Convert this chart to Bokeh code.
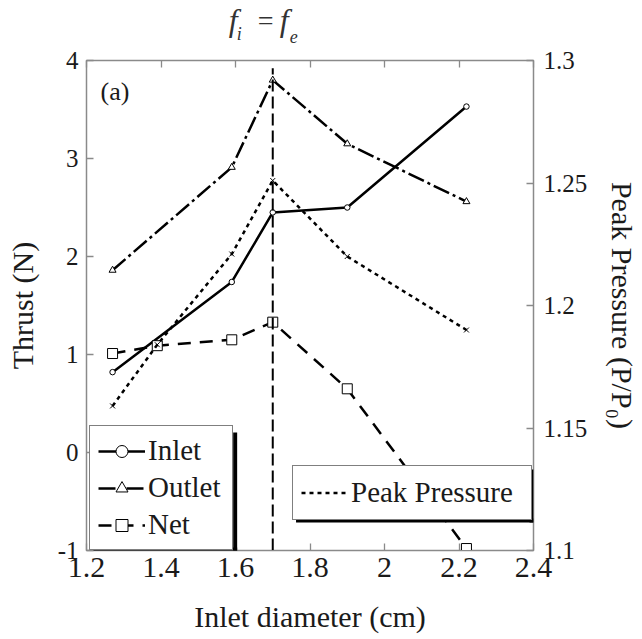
from bokeh.plotting import figure
from bokeh.layouts import column
from bokeh.models import (Range1d, LinearAxis, FixedTicker, Legend, LegendItem,
                          Label, BoxAnnotation)
from bokeh.embed import file_html
from bokeh.resources import INLINE

# ---------------- data ----------------
x_thrust = [1.27, 1.59, 1.70, 1.90, 2.22]
inlet = [0.82, 1.74, 2.45, 2.50, 3.53]
outlet = [1.86, 2.91, 3.80, 3.15, 2.56]

x_net = [1.27, 1.39, 1.59, 1.70, 1.90, 2.22]
net = [1.01, 1.09, 1.15, 1.33, 0.65, -0.98]

x_peak = [1.27, 1.39, 1.59, 1.70, 1.90, 2.22]
peak_pressure = [1.159, 1.184, 1.221, 1.251, 1.220, 1.190]

x_match = [1.70]          # f_i = f_e diameter
match_y = [-1.0, 3.92]

x_ticks = [1.2, 1.4, 1.6, 1.8, 2.0, 2.2, 2.4]
x_tick_labels = ["1.2", "1.4", "1.6", "1.8", "2", "2.2", "2.4"]
thrust_ticks = [-1, 0, 1, 2, 3, 4]
thrust_tick_labels = ["-1", "0", "1", "2", "3", "4"]
pp_ticks = [1.1, 1.15, 1.2, 1.25, 1.3]
pp_tick_labels = ["1.1", "1.15", "1.2", "1.25", "1.3"]

FONT = "Liberation Serif"
GRAY = "#8a8a8a"
TXT = "#1a1a1a"
TOP_H = 46          # strip holding the f_i = f_e note
TOP_BORDER = 14     # room above the frame for the top tick labels

xr = Range1d(1.2, 2.4)

# ---------------- strip above the plot for the f_i = f_e note ----------------
top = figure(width=642, height=TOP_H, x_range=xr, y_range=Range1d(0, TOP_H),
             output_backend="svg", toolbar_location=None,
             x_axis_type=None, y_axis_type=None,
             min_border_left=86, min_border_right=108, min_border_top=0,
             min_border_bottom=0)
top.title.visible = False
top.grid.visible = False
top.outline_line_color = None


def math_label(txt, dx, bottom, size, style="italic"):
    top.add_layout(Label(x=x_match[0], y=TOP_H - bottom, x_offset=dx, text=txt,
                         text_font=FONT, text_font_size=size, text_font_style=style,
                         text_baseline="bottom", text_align="left",
                         text_color="#333333"))

math_label("f", -44, 37, "32px")
math_label("i", -36, 43, "18px")
math_label("=", -15, 35, "28px", "normal")
math_label("f", 7, 37, "32px")
math_label("e", 17, 42, "18px")

# ---------------- main plot ----------------
p = figure(width=642, height=639 - TOP_H, x_range=xr, y_range=Range1d(-1, 4),
           output_backend="svg", toolbar_location=None,
           min_border_left=86, min_border_right=108, min_border_top=TOP_BORDER,
           min_border_bottom=89)
p.title.visible = False
p.extra_y_ranges = {"pp": Range1d(1.1, 1.3)}
p.grid.visible = False
p.outline_line_color = GRAY
p.outline_line_width = 1.5
p.background_fill_color = "white"
p.border_fill_color = "white"


def style_axis(ax, size):
    ax.major_tick_in = 7
    ax.major_tick_out = 0
    ax.minor_tick_line_color = None
    ax.axis_line_color = GRAY
    ax.major_tick_line_color = GRAY
    ax.major_tick_line_width = 1.3
    ax.major_label_text_font = FONT
    ax.major_label_text_font_size = size
    ax.major_label_text_color = TXT
    ax.axis_label_text_font = FONT
    ax.axis_label_text_font_style = "normal"
    ax.axis_label_text_font_size = "30px"
    ax.axis_label_text_color = TXT


xa = p.xaxis[0]
xa.ticker = FixedTicker(ticks=x_ticks)
xa.major_label_overrides = dict(zip(x_ticks, x_tick_labels))
xa.axis_label = "Inlet diameter (cm)"
style_axis(xa, "30px")
xa.major_label_standoff = 7
xa.axis_label_standoff = 20

ya = p.yaxis[0]
ya.ticker = FixedTicker(ticks=thrust_ticks)
ya.major_label_overrides = dict(zip(thrust_ticks, thrust_tick_labels))
ya.axis_label = "Thrust (N)"
style_axis(ya, "25px")
ya.major_label_standoff = 8
ya.axis_label_standoff = 16

ra = LinearAxis(y_range_name="pp", ticker=FixedTicker(ticks=pp_ticks))
ra.major_label_overrides = dict(zip(pp_ticks, pp_tick_labels))
ra.axis_label = "Peak Pressure (P/P\u2080)"
style_axis(ra, "25px")
ra.major_label_standoff = 10
ra.axis_label_standoff = 16
p.add_layout(ra, "right")

ta = LinearAxis(ticker=FixedTicker(ticks=x_ticks))
style_axis(ta, "1px")
ta.major_label_standoff = 0
ta.major_label_overrides = {t: "" for t in x_ticks}
p.add_layout(ta, "above")

# ---------------- lines ----------------
r_in_l = p.line(x_thrust, inlet, line_color="black", line_width=2.5)
r_in_m = p.scatter(x_thrust, inlet, marker="circle", size=5.5, fill_color="white",
                   line_color="black", line_width=1)
r_out_l = p.line(x_thrust, outlet, line_color="black", line_width=2.5,
                 line_dash="17 4 3 4")
r_out_m = p.scatter(x_thrust, outlet, marker="triangle", size=7, fill_color="white",
                    line_color="black", line_width=1)
r_net_l = p.line(x_net, net, line_color="black", line_width=2.5, line_dash="13 9")
r_net_m = p.scatter(x_net, net, marker="square", size=10, fill_color="white",
                    line_color="black", line_width=1)
r_pk_l = p.line(x_peak, peak_pressure, y_range_name="pp", line_color="black",
                line_width=2.5, line_dash="4 4")
r_pk_m = p.scatter(x_peak, peak_pressure, y_range_name="pp", marker="x", size=7,
                   line_color="black", line_width=1)

p.segment(x0=x_match, y0=[match_y[0]], x1=x_match, y1=[match_y[1]],
          line_color="black", line_width=2, line_dash="12 5")

# ---------------- labels ----------------
p.add_layout(Label(x=1.2, y=4, x_offset=14, y_offset=-16, text="(a)",
                   text_font=FONT, text_font_size="26px", text_baseline="top",
                   text_color=TXT))

# ---------------- legends ----------------
leg1 = Legend(items=[LegendItem(label="Inlet", renderers=[r_in_l, r_in_m]),
                     LegendItem(label="Outlet", renderers=[r_out_l, r_out_m]),
                     LegendItem(label="Net", renderers=[r_net_l, r_net_m])],
              location=(3, 0), orientation="vertical")
leg2 = Legend(items=[LegendItem(label="Peak Pressure", renderers=[r_pk_l])],
              location=(206, 30))
for lg, pad, lw, lh, sp in [(leg1, 8, 76, 30, 4), (leg2, 8, 172, 37, 0)]:
    lg.label_text_font = FONT
    lg.label_text_font_size = "29px"
    lg.label_text_color = TXT
    lg.border_line_color = "black"
    lg.border_line_width = 1.5
    lg.background_fill_color = "white"
    lg.background_fill_alpha = 1
    lg.padding = pad
    lg.margin = 0
    lg.spacing = sp
    lg.glyph_width = 47
    lg.glyph_height = lh
    lg.label_height = lh
    lg.label_width = lw
    lg.label_standoff = 3
    lg.label_text_baseline = "middle"
    p.add_layout(lg, "center")

# legend drop shadows (pixel positions measured inside the main figure)
FX0, FY0, FW, FH = 86, TOP_BORDER, 448, 490
Y_SHIFT = TOP_H   # page y -> figure y


def px2x(px):
    return 1.2 + (px - FX0) / FW * 1.2


def px2y(py):
    return 4 - (py - Y_SHIFT - FY0) / FH * 5


for (l, r, t, b) in [(233, 237, 432, 551), (93, 237, 547, 551),
                     (530, 534, 469, 522), (296, 534, 518, 522)]:
    p.add_layout(BoxAnnotation(left=px2x(l), right=px2x(r), top=px2y(t), bottom=px2y(b),
                               fill_color="black", fill_alpha=1, line_color=None))

layout = column(top, p, spacing=0)
open("out.html", "w").write(file_html(layout, INLINE))
